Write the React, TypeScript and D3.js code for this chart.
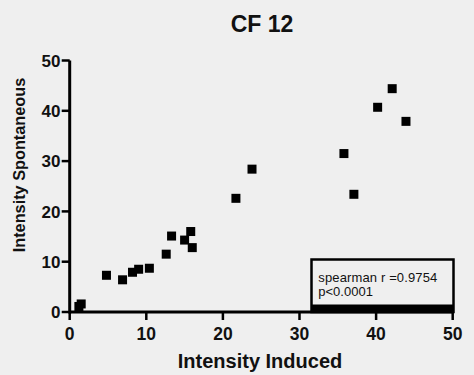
import React from "react";
import * as d3 from "d3";

const title = "CF 12";
const xLabel = "Intensity Induced";
const yLabel = "Intensity Spontaneous";
const xTicks = [0, 10, 20, 30, 40, 50];
const yTicks = [0, 10, 20, 30, 40, 50];
const xValues = [1.2, 1.5, 4.8, 6.9, 8.2, 9.0, 10.4, 12.6, 13.3, 15.0, 15.8, 16.0, 21.7, 23.8, 35.8, 37.1, 40.2, 42.1, 43.9];
const yValues = [1.1, 1.6, 7.3, 6.4, 7.9, 8.5, 8.7, 11.5, 15.1, 14.3, 16.0, 12.8, 22.6, 28.4, 31.5, 23.4, 40.7, 44.4, 37.9];
const statLines = ["spearman r =0.9754", "p<0.0001"];

export default function App() {
  const W = 474, H = 375;
  const x = d3.scaleLinear().domain([0, 50]).range([69.7, 452.7]);
  const y = d3.scaleLinear().domain([0, 50]).range([312, 60.5]);
  const font = "'Liberation Sans', Arial, Helvetica, sans-serif";
  const ms = 9;
  const boxL = 311.5, boxR = 453.5, boxT = 259.5;
  return (
    <svg width={W} height={H} style={{ position: "absolute", left: 0, top: 0, background: "#efefef" }} fontFamily={font}>
      <rect x={0} y={0} width={W} height={H} fill="#efefef" />
      <text x={262} y={31.5} textAnchor="middle" fontSize={23} fontWeight="bold" fill="#111">{title}</text>
      {/* legend box */}
      <rect x={boxL} y={boxT} width={boxR - boxL} height={y(0) - boxT} fill="none" stroke="#000" strokeWidth={2.5} />
      <rect x={boxL} y={304.5} width={boxR - boxL} height={y(0) - 304.5} fill="#000" />
      {statLines.map((s, i) => (
        <text key={i} x={318.3} y={281.5 + i * 14.5} fontSize={13} fill="#111" textLength={i === 0 ? 119 : undefined}>{s}</text>
      ))}
      {/* axes */}
      <line x1={x(0)} x2={x(50)} y1={y(0)} y2={y(0)} stroke="#000" strokeWidth={3} />
      <line x1={x(0)} x2={x(0)} y1={y(0) + 1.5} y2={y(50)} stroke="#000" strokeWidth={3} />
      {xTicks.map((t) => (
        <g key={"x" + t}>
          <line x1={x(t)} x2={x(t)} y1={y(0)} y2={y(0) + 8} stroke="#000" strokeWidth={2.5} />
          <text x={x(t)} y={340} textAnchor="middle" fontSize={17.5} fontWeight="bold" fill="#111">{t}</text>
        </g>
      ))}
      {yTicks.map((t) => (
        <g key={"y" + t}>
          <line x1={x(0) - 8} x2={x(0)} y1={y(t)} y2={y(t)} stroke="#000" strokeWidth={2.5} />
          <text x={60.5} y={y(t)} dy="0.36em" textAnchor="end" fontSize={17} fontWeight="bold" fill="#111">{t}</text>
        </g>
      ))}
      <text x={260} y={368} textAnchor="middle" fontSize={20} fontWeight="bold" fill="#111">{xLabel}</text>
      <text transform={`translate(25,165) rotate(-90)`} textAnchor="middle" fontSize={16.3} fontWeight="bold" fill="#111">{yLabel}</text>
      {/* points */}
      {xValues.map((v, i) => (
        <rect key={i} x={x(v) - ms / 2} y={y(yValues[i]) - ms / 2} width={ms} height={ms} fill="#000" />
      ))}
    </svg>
  );
}
